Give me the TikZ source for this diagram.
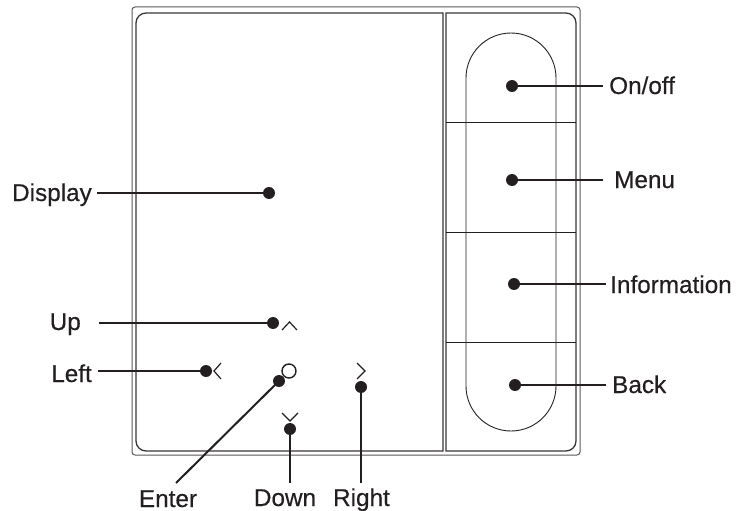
\documentclass[tikz,border=0pt]{standalone}
\usepackage{fontspec}
\newfontfamily\lblfont[FakeBold=0.4]{Liberation Sans}
\definecolor{ink}{HTML}{231F20}
\begin{document}
\begin{tikzpicture}[x=1pt,y=-1pt,
  lbl/.style={font=\lblfont\fontsize{24.3}{28}\selectfont, text=ink, inner sep=0pt},
  dot/.style={circle, fill=ink, minimum size=12pt, inner sep=0pt},
  lead/.style={draw=ink, line width=2pt},
  panel/.style={draw=ink!90, line width=1.3pt},
  thin/.style={draw=ink, line width=0.9pt},
  caret/.style={draw=ink, line width=1.2pt}]
\useasboundingbox (0,0) rectangle (740,511);
% housing
\draw[draw=ink!75, line width=1pt] (135,7) -- (577,7) arc[start angle=-90,end angle=0,radius=3] -- (580,452) arc[start angle=0,end angle=90,radius=3] -- (135,455) arc[start angle=90,end angle=180,radius=3] -- (132,10) arc[start angle=180,end angle=270,radius=3] -- cycle;
% display panel
\draw[panel] (443,13) -- (146,13) arc[start angle=-90,end angle=-180,radius=10] -- (136,441) arc[start angle=180,end angle=90,radius=10] -- (443,451) -- cycle;
% button panel
\draw[panel] (446,13) -- (566,13) arc[start angle=-90,end angle=0,radius=10] -- (576,441) arc[start angle=0,end angle=90,radius=10] -- (446,451) -- cycle;
\draw[thin] (446,122) -- (576,122);
\draw[thin] (446,232) -- (576,232);
\draw[thin] (446,342) -- (576,342);
% pill
\draw[thin] (466,78) arc[start angle=180,end angle=360,radius=45] -- (556,386) arc[start angle=0,end angle=180,radius=45] -- cycle;
% navigation symbols
\draw[caret] (282,330) -- (289.5,322) -- (297,330);
\draw[caret] (221,363) -- (214,371) -- (221,379);
\draw[caret] (357,363) -- (365,371) -- (357,379);
\draw[caret] (282,413) -- (290,421) -- (298,413);
\draw[ink, line width=1.4pt] (289,371) circle[radius=7];
% dots
\node[dot] (dDisp) at (269,193) {};
\node[dot] (dUp) at (273,323) {};
\node[dot] (dLeft) at (206,371) {};
\node[dot] (dEnter) at (279,381) {};
\node[dot] (dDown) at (290,429) {};
\node[dot] (dRight) at (361,387) {};
\node[dot] (dOn) at (512,86) {};
\node[dot] (dMenu) at (512,180) {};
\node[dot] (dInfo) at (514,284) {};
\node[dot] (dBack) at (515,385) {};
% labels
\node[lbl, anchor=base east] (lDisp) at (92,201) {Display};
\node[lbl, anchor=base east] (lUp) at (81,330) {Up};
\node[lbl, anchor=base east] (lLeft) at (92,382) {Left};
\node[lbl, anchor=base] (lEnter) at (168,507) {Enter};
\node[lbl, anchor=base] (lDown) at (285,506) {Down};
\node[lbl, anchor=base] (lRight) at (361.5,506) {Right};
\node[lbl, anchor=base west] (lOn) at (609,94) {On/off};
\node[lbl, anchor=base west] (lMenu) at (614,188) {Menu};
\node[lbl, anchor=base west] (lInfo) at (610,293) {Information};
\node[lbl, anchor=base west] (lBack) at (612,393) {Back};
% connector ends
\coordinate (cDisp) at (97,193);
\coordinate (cUp) at (99,323);
\coordinate (cLeft) at (98,371);
\coordinate (cEnter) at (176,483);
\coordinate (cDown) at (290,483);
\coordinate (cRight) at (361,483);
\coordinate (cOn) at (603,86);
\coordinate (cMenu) at (603,180);
\coordinate (cInfo) at (606,284);
\coordinate (cBack) at (606,385);
% connectors
\draw[lead] (cDisp) -- (dDisp.center);
\draw[lead] (cUp) -- (dUp.center);
\draw[lead] (cLeft) -- (dLeft.center);
\draw[lead] (cEnter) -- (dEnter.center);
\draw[lead] (cDown) -- (dDown.center);
\draw[lead] (cRight) -- (dRight.center);
\draw[lead] (cOn) -- (dOn.center);
\draw[lead] (cMenu) -- (dMenu.center);
\draw[lead] (cInfo) -- (dInfo.center);
\draw[lead] (cBack) -- (dBack.center);
\end{tikzpicture}
\end{document}
